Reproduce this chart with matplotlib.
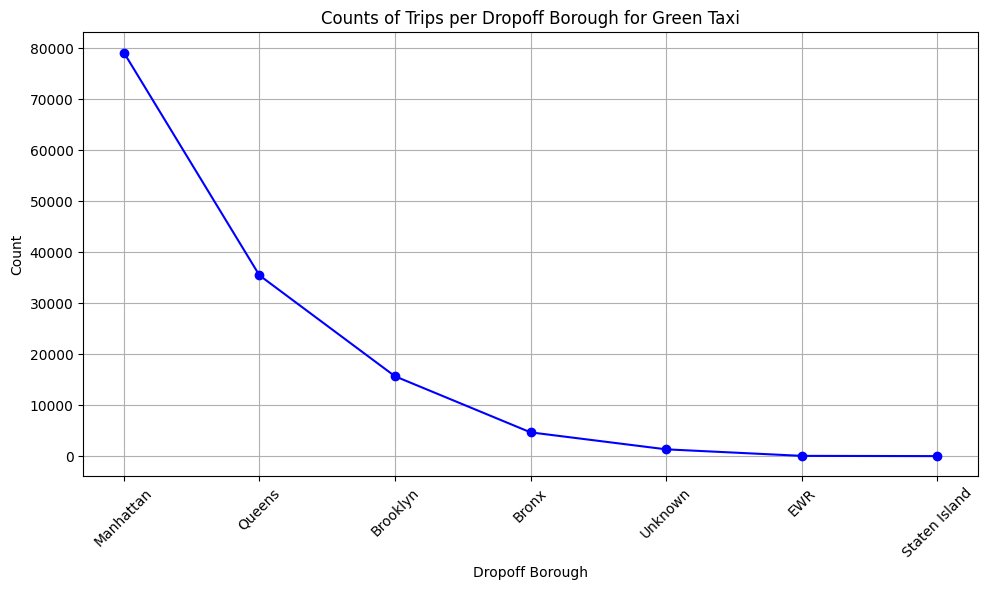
import matplotlib
matplotlib.use("Agg")
import matplotlib.pyplot as plt

boroughs = ['Manhattan', 'Queens', 'Brooklyn', 'Bronx', 'Unknown', 'EWR', 'Staten Island']
counts = [79200, 35500, 15700, 4700, 1370, 90, 40]

fig = plt.figure(figsize=(10, 6), dpi=100)
plt.plot(boroughs, counts, marker='o', linestyle='-', color='b')
plt.title('Counts of Trips per Dropoff Borough for Green Taxi')
plt.xlabel('Dropoff Borough')
plt.ylabel('Count')
plt.xticks(rotation=45)
plt.grid(True)
plt.tight_layout()
plt.savefig('out.png', dpi=100, bbox_inches='tight')
